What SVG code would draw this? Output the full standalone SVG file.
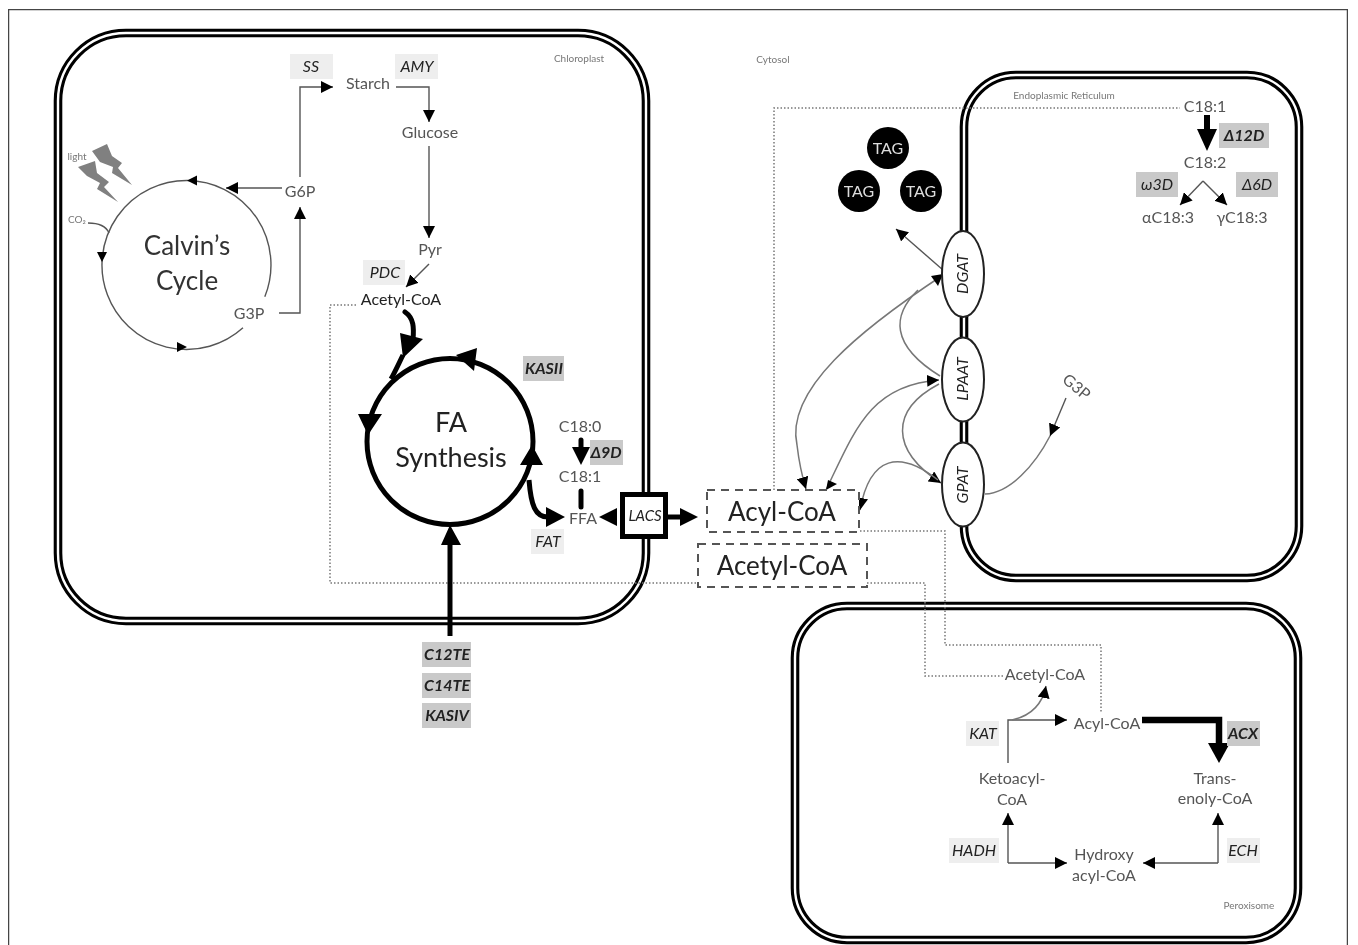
<svg xmlns="http://www.w3.org/2000/svg" width="1358" height="945" viewBox="0 0 1358 945">
<style>
text{font-family:"Lato","Open Sans","Liberation Sans",sans-serif;text-anchor:middle;fill:#555}
.s{font-size:16px}.t{font-size:10px;fill:#777}.d{fill:#222}
.e{font-size:16px;font-style:italic;font-weight:700;fill:#222}
.n{font-size:16px;font-style:italic;fill:#222}
.lb{fill:#eeeeee}.db{fill:#c9c9c9}
.mo{fill:none;stroke:#000;stroke-width:8.600}.mi{fill:none;stroke:#fff;stroke-width:2.400}
.c{fill:none;stroke:#555;stroke-width:1.400}
.c2{fill:none;stroke:#777;stroke-width:1.500}
.b{fill:none;stroke:#000;stroke-width:5}
.dot{fill:none;stroke:#777;stroke-width:1.500;stroke-dasharray:1.500 2}
.dash{fill:#fff;stroke:#555;stroke-width:2;stroke-dasharray:8 6}
.en{fill:#fff;stroke:#222;stroke-width:2}
.en2{font-size:16px;font-style:italic;fill:#222}
</style>
<defs>
<marker id="a" viewBox="0 0 10 10" refX="10" refY="5" markerWidth="12" markerHeight="12" markerUnits="userSpaceOnUse" orient="auto"><path d="M0 0L10 5L0 10Z" fill="#000"/></marker>
<filter id="soft" x="0" y="0" width="100%" height="100%"><feGaussianBlur stdDeviation="0.55"/></filter>
</defs>
<rect width="1358" height="945" fill="#fff"/>
<g filter="url(#soft)">
<path d="M8.500 945V9.500H1347.500V945" fill="none" stroke="#444" stroke-width="1.500"/>

<g id="membranes">
<rect class="mo" x="58" y="33" width="588" height="588" rx="68"/><rect class="mi" x="58" y="33" width="588" height="588" rx="68"/>
<rect class="mo" x="964" y="75" width="335" height="503" rx="52"/><rect class="mi" x="964" y="75" width="335" height="503" rx="52"/>
<rect class="mo" x="795" y="606" width="503" height="334" rx="52"/><rect class="mi" x="795" y="606" width="503" height="334" rx="52"/>
</g>
<g id="compartment-labels">
<text class="t" x="579" y="62">Chloroplast</text>
<text class="t" x="773" y="63">Cytosol</text>
<text class="t" x="1064" y="99">Endoplasmic Reticulum</text>
<text class="t" x="1249" y="909">Peroxisome</text>
</g>

<g id="connectors">
<path class="dot" d="M356 305H330V583H697"/>
<path class="dot" d="M774 490V108H1180"/>
<path class="dot" d="M860 531H945V645H1101V712"/>
<path class="dot" d="M867 583H925V676H1003"/>

<path class="c" d="M264.800 296.700A84.500 84.500 0 1 0 243 327.800"/>
<path d="M187 180.500l10-5v10z M97 252h10l-5 10z M187 347l-10-5v10z" fill="#000"/>
<path class="c" d="M88 223C98 223 106 226 109 233"/>
<path class="c" d="M282 188H226" marker-end="url(#a)"/>
<path class="c" d="M300 177V87H333" marker-end="url(#a)"/>
<path class="c" d="M279 313H300V207" marker-end="url(#a)"/>
<path class="c" d="M396 87H429V122" marker-end="url(#a)"/>
<path class="c" d="M429 146V238" marker-end="url(#a)"/>
<path class="c" d="M429 264L406 287" marker-end="url(#a)"/>

<circle class="b" cx="450" cy="441.500" r="83"/>
<path class="b" stroke-linecap="round" d="M405 312C414 318 414 328 413 340"/>
<path class="b" d="M403 355C399 363 395 372 391 379"/>
<path d="M403 358L400 333L423 339Z M368 435L358 414L382 414Z M456 355L477 348L474 371Z M532 445L520 465L543 465Z M450 525L441 545L461 545Z"/>
<path class="b" d="M450 545V636"/>
<path class="b" d="M529 480C531 505 535 517 548 517"/>
<path d="M565 517L546 507V527Z"/>
<path class="b" stroke-linecap="round" d="M581 440V450"/>
<path d="M581 465L572 447H590Z"/>
<path class="b" stroke-linecap="round" d="M581 491V507"/>
<path d="M599 517L617 508V526Z"/>
<path d="M680 508L698 517L680 526Z"/>
<path class="b" d="M665 517H682"/>

<path class="c2" d="M943 275C860 330 785 390 797 445C799 462 802 476 806 489" marker-end="url(#a)"/>
<path d="M943 274L931 276L938 286Z" fill="#000"/>
<path class="c2" d="M918 290C892 315 890 345 940 376"/>
<path class="c2" d="M826 490C855 430 870 385 939 380" marker-end="url(#a)"/>
<path d="M826 490L828 480L837 484Z" fill="#000"/>
<path class="c2" d="M939 384C890 410 890 450 941 483" marker-end="url(#a)"/>
<path class="c2" d="M938 480C900 450 870 455 860 510" marker-end="url(#a)"/>
<path class="c2" d="M985 494C1010 493 1035 465 1050 436"/>
<path class="c" d="M1066 398L1050 436" marker-end="url(#a)"/>
<path class="c" d="M943 270L896 229" marker-end="url(#a)"/>

<path class="b" style="stroke-width:6" d="M1207 115V135"/>
<path d="M1207 151L1197 129H1217Z"/>
<path class="c" d="M1203 181L1180 205" marker-end="url(#a)"/>
<path class="c" d="M1203 181L1227 205" marker-end="url(#a)"/>

<path class="c" d="M1008 763V720H1067" marker-end="url(#a)"/>
<path class="c2" d="M1012 720C1030 716 1042 706 1046 686" marker-end="url(#a)"/>
<path fill="none" stroke="#000" stroke-width="6.500" d="M1142 720H1219V745"/>
<path d="M1219 763L1208 743H1230Z"/>
<path class="c" d="M1008 863V813" marker-end="url(#a)"/>
<path class="c" d="M1008 863H1067" marker-end="url(#a)"/>
<path class="c" d="M1218 863V813" marker-end="url(#a)"/>
<path class="c" d="M1218 863H1143" marker-end="url(#a)"/>
</g>

<g id="light"><text class="t" x="77" y="160">light</text>
<path fill="#808080" d="M92 151L107 144L112 156L122 163L118 168L132 185L112 173L113 167L100 162Z"/>
<path fill="#808080" d="M78 167L95 161L97 173L109 182L104 187L118 202L97 189L100 183L87 176Z"/></g>
<g id="co2"><text class="t" x="77" y="223">CO₂</text></g>
<g id="calvin"><text x="187" y="255" style="font-size:26px;fill:#333">Calvin’s</text><text x="187" y="290" style="font-size:26px;fill:#333">Cycle</text></g>
<g id="g3p"><text class="s" x="249" y="319">G3P</text></g>
<g id="g6p"><text class="s" x="300" y="197">G6P</text></g>
<g id="ss"><rect class="lb" x="290" y="54" width="43" height="25"/><text class="n" x="311" y="72">SS</text></g>
<g id="amy"><rect class="lb" x="395" y="54" width="43" height="25"/><text class="n" x="417" y="72">AMY</text></g>
<g id="starch"><text class="s" x="368" y="89">Starch</text></g>
<g id="glucose"><text class="s" x="430" y="138">Glucose</text></g>
<g id="pyr"><text class="s" x="430" y="255">Pyr</text></g>
<g id="pdc"><rect class="lb" x="363" y="260" width="42" height="25"/><text class="n" x="385" y="278">PDC</text></g>
<g id="acetyl-coa-chl"><text class="s d" x="401" y="305">Acetyl-CoA</text></g>
<g id="fa"><text x="451" y="432" style="font-size:27px" class="d">FA</text><text x="451" y="467" style="font-size:27px" class="d">Synthesis</text></g>
<g id="kasii"><rect class="db" x="523" y="356" width="41" height="25"/><text class="e" x="544" y="374">KASII</text></g>
<g id="c180"><text class="s" x="580" y="432">C18:0</text></g>
<g id="d9d"><rect class="db" x="590" y="440" width="33" height="25"/><text class="e" x="606" y="458">Δ9D</text></g>
<g id="c181"><text class="s" x="580" y="482">C18:1</text></g>
<g id="ffa"><text class="s" x="583" y="524">FFA</text></g>
<g id="fat"><rect class="lb" x="531" y="529" width="33" height="25"/><text class="n" x="548" y="547">FAT</text></g>
<g id="lacs"><rect x="622.500" y="494.500" width="43" height="42" fill="#fff" stroke="#000" stroke-width="5"/><text x="645" y="521" style="font-size:15px;font-style:italic" class="d">LACS</text></g>
<g id="c12te"><rect class="db" x="422" y="642" width="49" height="25"/><text class="e" x="447" y="660">C12TE</text></g>
<g id="c14te"><rect class="db" x="422" y="673" width="49" height="25"/><text class="e" x="447" y="691">C14TE</text></g>
<g id="kasiv"><rect class="db" x="422" y="703" width="49" height="25"/><text class="e" x="447" y="721">KASIV</text></g>
<g id="acyl-coa-box"><rect class="dash" x="707" y="490" width="152" height="42"/><text class="d" x="782" y="521" style="font-size:26px">Acyl-CoA</text></g>
<g id="acetyl-coa-box"><rect class="dash" x="698" y="544" width="169" height="43"/><text class="d" x="782" y="575" style="font-size:26px">Acetyl-CoA</text></g>
<g id="tag1"><circle cx="888" cy="148" r="21"/><text class="s" x="888" y="154" style="fill:#ddd">TAG</text></g>
<g id="tag2"><circle cx="859" cy="191" r="21"/><text class="s" x="859" y="197" style="fill:#ddd">TAG</text></g>
<g id="tag3"><circle cx="921" cy="191" r="21"/><text class="s" x="921" y="197" style="fill:#ddd">TAG</text></g>
<g id="dgat"><ellipse class="en" cx="963" cy="274" rx="21" ry="43"/><text class="en2" transform="translate(968 274) rotate(-90)">DGAT</text></g>
<g id="lpaat"><ellipse class="en" cx="963" cy="379.500" rx="21" ry="42"/><text class="en2" transform="translate(968 379) rotate(-90)">LPAAT</text></g>
<g id="gpat"><ellipse class="en" cx="963" cy="484.500" rx="21" ry="42"/><text class="en2" transform="translate(968 485) rotate(-90)">GPAT</text></g>
<g id="g3p-er"><text class="s" transform="translate(1073 391) rotate(40)">G3P</text></g>
<g id="c181-er"><text class="s" x="1205" y="112">C18:1</text></g>
<g id="d12d"><rect class="db" x="1219" y="123" width="50" height="25"/><text class="e" x="1244" y="141">Δ12D</text></g>
<g id="c182"><text class="s" x="1205" y="168">C18:2</text></g>
<g id="w3d"><rect class="db" x="1136" y="172" width="42" height="25"/><text class="n" x="1157" y="190">ω3D</text></g>
<g id="d6d"><rect class="db" x="1236" y="172" width="42" height="25"/><text class="n" x="1257" y="190">Δ6D</text></g>
<g id="ac183"><text class="s" x="1168" y="223">αC18:3</text></g>
<g id="gc183"><text class="s" x="1242" y="223">γC18:3</text></g>
<g id="acetyl-coa-per"><text class="s" x="1045" y="680">Acetyl-CoA</text></g>
<g id="acyl-coa-per"><text class="s" x="1107" y="729">Acyl-CoA</text></g>
<g id="kat"><rect class="lb" x="966" y="721" width="33" height="25"/><text class="n" x="983" y="739">KAT</text></g>
<g id="acx"><rect class="db" x="1227" y="721" width="33" height="25"/><text class="e" x="1243" y="739">ACX</text></g>
<g id="ketoacyl"><text class="s" x="1012" y="784">Ketoacyl-</text><text class="s" x="1012" y="805">CoA</text></g>
<g id="trans"><text class="s" x="1215" y="784">Trans-</text><text class="s" x="1215" y="804">enoly-CoA</text></g>
<g id="hydroxy"><text class="s" x="1104" y="860">Hydroxy</text><text class="s" x="1104" y="881">acyl-CoA</text></g>
<g id="hadh"><rect class="lb" x="949" y="838" width="50" height="25"/><text class="n" x="974" y="856">HADH</text></g>
<g id="ech"><rect class="lb" x="1227" y="838" width="33" height="25"/><text class="n" x="1243" y="856">ECH</text></g>
</g>
</svg>
